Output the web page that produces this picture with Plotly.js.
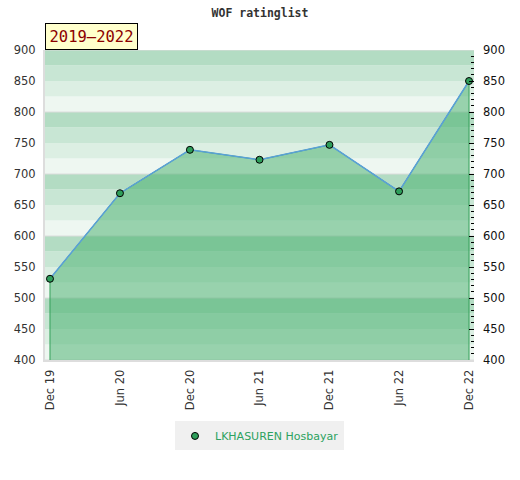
<!DOCTYPE html>
<html><head><meta charset="utf-8">
<script src="https://cdn.plot.ly/plotly-3.0.1.min.js"></script>
<style>body{margin:0;background:#fff}#c{width:520px;height:480px}</style>
</head><body><div id="c"></div>
<script>
const dates = ['2019-12-01','2020-06-01','2020-12-01','2021-06-01','2021-12-01','2022-06-01','2022-12-01'];
const ratings = [531, 669, 739, 723, 747, 672, 850];
const playerName = 'LKHASUREN Hosbayar';
const periodLabel = '2019–2022';
const chartTitle = 'WOF ratinglist';

const yMin = 400, yMax = 900;
const bandColors = ['#eef7f1','#dcefe3','#c8e6d4','#b3dcc3'];
const shapes = [];
for (let v = yMin, i = 0; v < yMax; v += 25, i++) {
  shapes.push({type:'rect', xref:'paper', yref:'y', x0:0, x1:1, y0:v, y1:v+25,
    fillcolor: bandColors[i % 4], line:{width:0}, layer:'below'});
}
for (let v = yMin; v <= yMax; v += 100) {
  shapes.push({type:'line', xref:'paper', yref:'y', x0:0, x1:1, y0:v, y1:v,
    line:{color:'#dcdcdc', width:1}, layer:'below'});
}

const polyX = [dates[0], ...dates, dates[dates.length-1]];
const polyY = [yMin, ...ratings, yMin];

const markerStyle = {color:'#2e9e5a', size:7, line:{color:'#000', width:1}};
const traces = [
  {x: polyX, y: polyY, mode:'lines', fill:'toself', fillcolor:'rgba(65,173,105,0.5)',
   line:{color:'#34a05a', width:1}, hoverinfo:'skip', showlegend:false},
  {x: dates, y: ratings, mode:'lines', line:{color:'#5aa0d8', width:1.5}, showlegend:false},
  {x: dates, y: ratings, mode:'markers', name: playerName, marker: markerStyle},
  {x: dates, y: ratings, yaxis:'y2', mode:'markers', marker:{opacity:0}, showlegend:false, hoverinfo:'skip'}
];

const tf = {family:'DejaVu Sans', size:11.5, color:'#333'};
const layout = {
  width:520, height:480,
  margin:{l:45, r:46, t:50, b:120},
  paper_bgcolor:'#fff', plot_bgcolor:'rgba(0,0,0,0)',
  title:{text:chartTitle, x:0.5, xanchor:'center', y:0.972, yanchor:'middle',
    font:{family:'DejaVu Sans Mono', size:11.5, color:'#333', weight:'bold'}},
  xaxis:{type:'date', range:['2019-11-18','2022-12-14'], tick0:'2019-12-01', dtick:'M6',
    tickformat:'%b %y', tickangle:-90, showgrid:false, zeroline:false,
    showline:true, linecolor:'#dddddd', linewidth:2, ticks:'', ticklabelstandoff:3,
    tickfont:tf},
  yaxis:{range:[yMin, yMax], dtick:50, showgrid:false, zeroline:false,
    showline:true, linecolor:'#dddddd', linewidth:2, ticks:'', ticklabelstandoff:5,
    tickfont:tf},
  yaxis2:{range:[yMin, yMax], dtick:50, overlaying:'y', side:'right', showgrid:false, zeroline:false,
    ticks:'inside', ticklen:5, tickcolor:'#000', tickwidth:1, ticklabelstandoff:8,
    minor:{dtick:10, ticks:'inside', ticklen:3, tickcolor:'#000', tickwidth:1},
    tickfont:{family:'DejaVu Sans', size:11.5, color:'#111'}},
  shapes: shapes,
  annotations:[{text:periodLabel, xref:'paper', yref:'paper', x:0, y:1, xanchor:'left', yanchor:'bottom',
    showarrow:false, bgcolor:'#ffffcc', bordercolor:'#000', borderwidth:1, borderpad:3.5,
    font:{family:'DejaVu Sans Mono', size:15.5, color:'#8b0000'}}],
  legend:{orientation:'h', x:0.5, xanchor:'center', y:-0.245, yanchor:'middle',
    bgcolor:'#f0f0f0', font:{family:'DejaVu Sans', size:11, color:'#2ca25f'}, itemwidth:30},
  showlegend:true
};
Plotly.newPlot('c', traces, layout, {displayModeBar:false, staticPlot:true});
</script></body></html>
